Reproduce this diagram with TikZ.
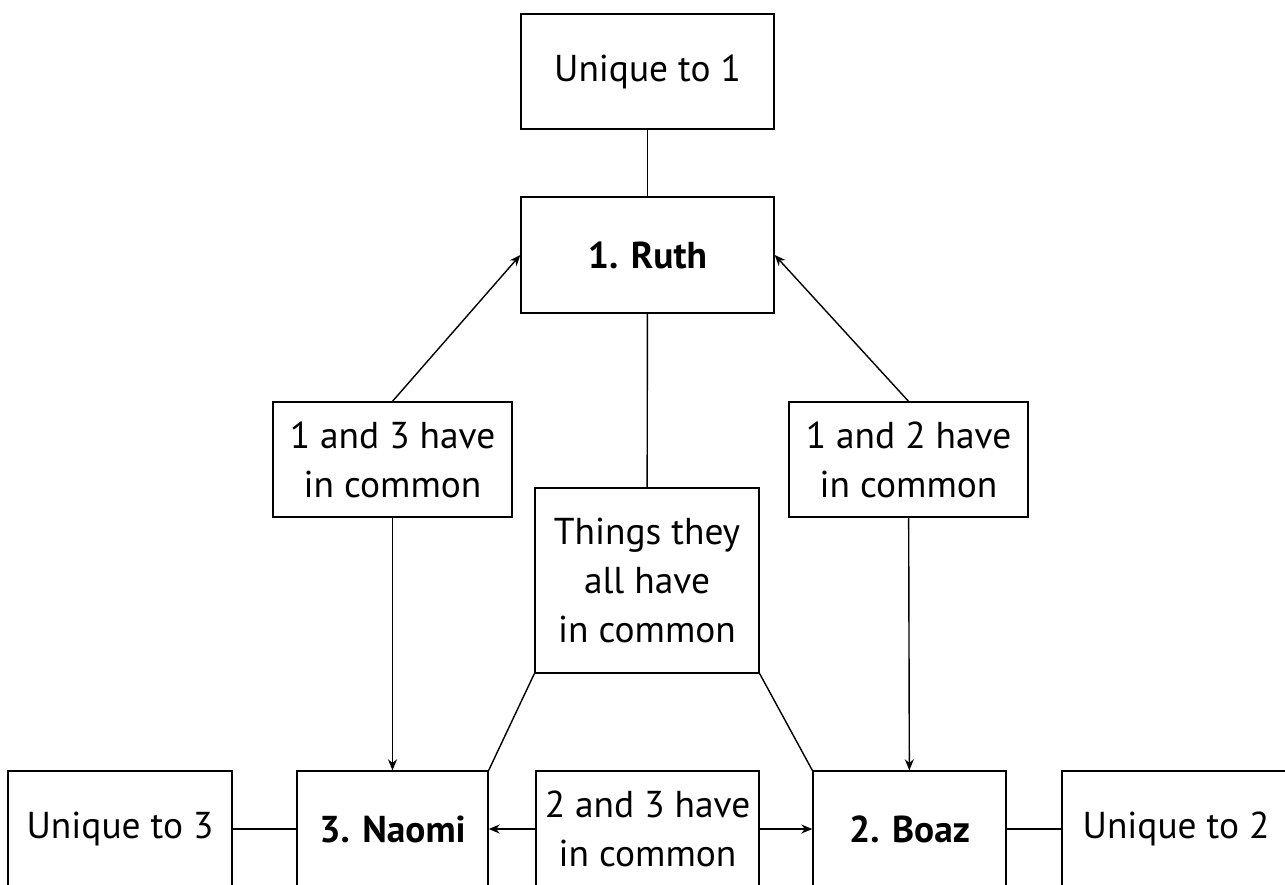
\documentclass[tikz,border=0pt]{standalone}
\usepackage{fontspec}
\setmainfont{PT Sans}
\usetikzlibrary{arrows.meta}

\tikzset{
  box/.style={draw, line width=0.7pt, align=center, inner sep=0pt,
    font=\fontsize{18.7}{24.5}\selectfont},
  namebox/.style={box, font=\fontsize{18.7}{24.5}\selectfont\bfseries},
  link/.style={line width=0.7pt},
  arrowlink/.style={link, -{Stealth[length=5.5pt,width=4.5pt]}}
}

\begin{document}
\begin{tikzpicture}[x=0.5pt, y=-0.5pt]

\useasboundingbox (0,0) rectangle (1285,884);

% Top: Ruth
\node[box, minimum width=126.5pt, minimum height=57.5pt] (uniq1) at (647.5,71.5) {Unique to 1};
\node[namebox, minimum width=126.5pt, minimum height=58pt] (ruth) at (647.5,255) {1. Ruth};

% Middle row
\node[box, minimum width=119.5pt, minimum height=57.5pt] (common13) at (392.5,459.5) {1 and 3 have\\in common};
\node[box, minimum width=119.5pt, minimum height=57.5pt] (common12) at (908.5,459.5) {1 and 2 have\\in common};
\node[box, minimum width=112pt, minimum height=92.5pt] (commonall) at (647,580.5) {Things they\\all have\\in common};

% Bottom row
\node[box, minimum width=112pt, minimum height=58pt] (uniq3) at (120,829) {Unique to 3};
\node[namebox, minimum width=95.5pt, minimum height=58pt] (naomi) at (392.5,829) {3. Naomi};
\node[box, minimum width=111.5pt, minimum height=58pt] (common23) at (647.5,829) {2 and 3 have\\in common};
\node[namebox, minimum width=96.5pt, minimum height=58pt] (boaz) at (909.5,829) {2. Boaz};
\node[box, minimum width=114pt, minimum height=58pt] (uniq2) at (1176,829) {Unique to 2};

% Plain links
\draw[link] (uniq1) -- (ruth);
\draw[link] (ruth) -- (commonall);
\draw[link] (uniq3) -- (naomi);
\draw[link] (boaz) -- (uniq2);
\draw[link] (commonall.south west) -- (naomi.north east);
\draw[link] (commonall.south east) -- (boaz.north west);

% Arrows
\draw[arrowlink] (common13.north) -- (ruth.west);
\draw[arrowlink] (common12.north) -- (ruth.east);
\draw[arrowlink] (common13) -- (naomi);
\draw[arrowlink] (common12) -- (boaz);
\draw[arrowlink] (common23) -- (naomi);
\draw[arrowlink] (common23) -- (boaz);

\end{tikzpicture}
\end{document}
